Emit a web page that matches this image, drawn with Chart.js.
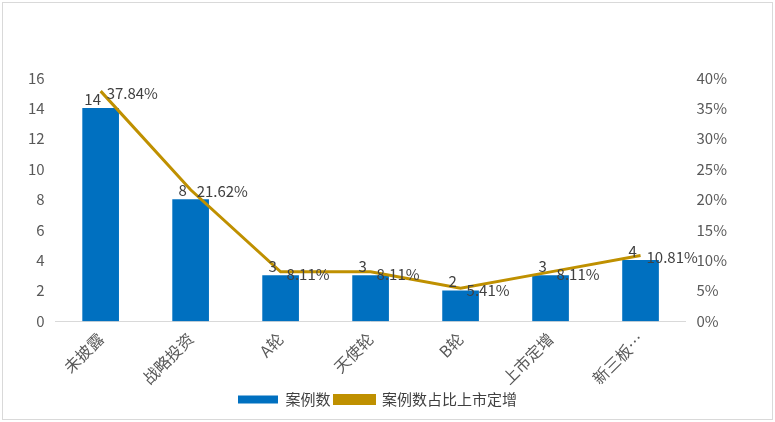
<!DOCTYPE html>
<html><head><meta charset="utf-8">
<script src="https://cdn.jsdelivr.net/npm/chart.js@4"></script>
<style>
body{margin:0;background:#fff;}
#wrap{position:absolute;left:2px;top:2px;width:769px;height:416px;border:1px solid #d9d9d9;}
</style></head><body>
<div id="wrap"><canvas id="c" width="769" height="416"></canvas></div>
<script>
const categories = ['未披露', '战略投资', 'A轮', '天使轮', 'B轮', '上市定增', '新三板…'];
const counts = [14, 8, 3, 3, 2, 3, 4];
const shares = [37.84, 21.62, 8.11, 8.11, 5.41, 8.11, 10.81];

const labelPlugin = {
    id: 'labels',
    afterDatasetsDraw(chart) {
        const ctx = chart.ctx;
        ctx.save();
        ctx.font = '15px "Noto Sans CJK SC", "DejaVu Sans", sans-serif';
        ctx.fillStyle = '#404040';
        ctx.textBaseline = 'bottom';
        ctx.textAlign = 'center';
        chart.getDatasetMeta(0).data.forEach((bar, i) => {
            ctx.fillText(counts[i], bar.x - 8, bar.y - 2);
        });
        ctx.textAlign = 'left';
        ctx.textBaseline = 'middle';
        chart.getDatasetMeta(1).data.forEach((pt, i) => {
            ctx.fillText(shares[i].toFixed(2) + '%', pt.x + 6, pt.y + 2);
        });
        ctx.restore();
    }
};

const font = { family: '"Noto Sans CJK SC", "DejaVu Sans", sans-serif', size: 15 };
new Chart(document.getElementById('c'), {
    data: {
        labels: categories,
        datasets: [{
            type: 'bar',
            label: '案例数',
            data: counts,
            backgroundColor: '#0070C0',
            barThickness: 36,
            yAxisID: 'y',
            order: 2
        }, {
            type: 'line',
            label: '案例数占比上市定增',
            data: shares,
            borderColor: '#BF9000',
            backgroundColor: '#BF9000',
            borderWidth: 3,
            pointRadius: 0,
            yAxisID: 'y1',
            order: 1
        }]
    },
    options: {
        responsive: false,
        animation: false,
        layout: { padding: { top: 75, left: 22, right: 42, bottom: 2 } },
        plugins: {
            legend: {
                position: 'bottom',
                labels: {
                    color: '#404040', font: font, boxWidth: 40, boxHeight: 8, padding: 4,
                    sort: (a, b) => a.datasetIndex - b.datasetIndex
                }
            },
            tooltip: { enabled: false }
        },
        scales: {
            x: {
                grid: { display: false },
                border: { color: '#d9d9d9' },
                ticks: { color: '#595959', font: { family: font.family, size: 16 }, maxRotation: 45, minRotation: 45, padding: 0 }
            },
            y: {
                min: 0, max: 16,
                grid: { display: false },
                border: { display: false },
                ticks: { stepSize: 2, color: '#595959', font: font }
            },
            y1: {
                position: 'right',
                min: 0, max: 40,
                grid: { display: false },
                border: { display: false },
                ticks: { stepSize: 5, color: '#595959', font: font, callback: v => v + '%' }
            }
        }
    },
    plugins: [labelPlugin]
});
</script>
</body></html>
